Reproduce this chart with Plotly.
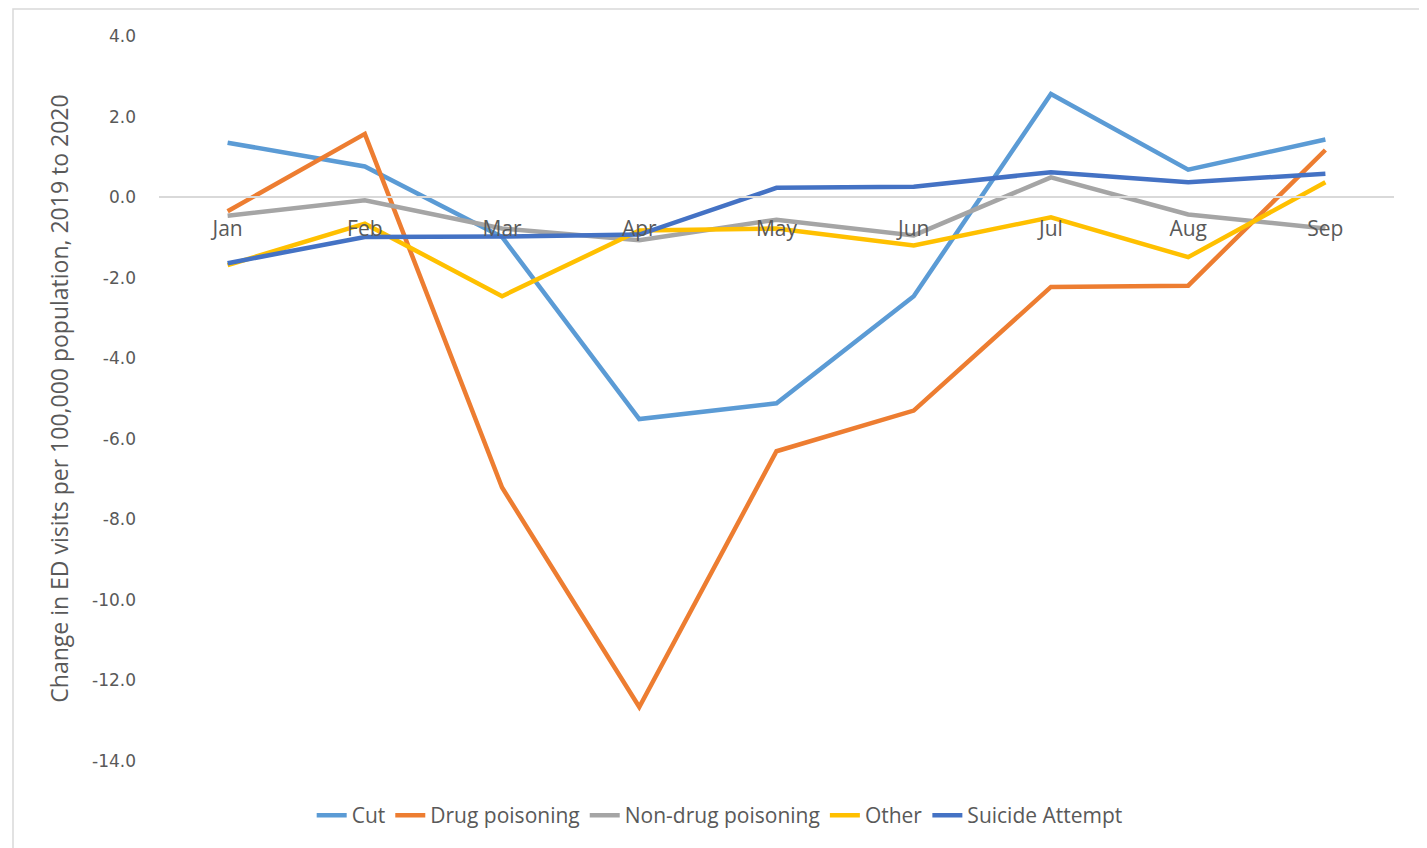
import plotly.graph_objects as go

months = ["Jan", "Feb", "Mar", "Apr", "May", "Jun", "Jul", "Aug", "Sep"]
cut = [1.35, 0.76, -0.99, -5.51, -5.12, -2.46, 2.56, 0.68, 1.43]
drug = [-0.35, 1.57, -7.21, -12.66, -6.31, -5.30, -2.23, -2.20, 1.17]
nondrug = [-0.46, -0.08, -0.78, -1.07, -0.56, -0.95, 0.49, -0.43, -0.78]
other = [-1.69, -0.66, -2.46, -0.83, -0.78, -1.20, -0.50, -1.49, 0.37]
suicide = [-1.64, -0.99, -0.98, -0.93, 0.23, 0.26, 0.62, 0.37, 0.58]

series = [
    ("Cut", cut, "#5B9BD5"),
    ("Drug poisoning", drug, "#ED7D31"),
    ("Non-drug poisoning", nondrug, "#A5A5A5"),
    ("Other", other, "#FFC000"),
    ("Suicide Attempt", suicide, "#4472C4"),
]

ytick_vals = [4, 2, 0, -2, -4, -6, -8, -10, -12, -14]
ytick_text = [f"{v:.1f}" for v in ytick_vals]

fig = go.Figure()
for name, vals, color in series:
    fig.add_trace(go.Scatter(x=months, y=vals, name=name, mode="lines",
                             line=dict(color=color, width=4.5)))

ymin, ymax = -14, 4
W, H = 1419, 840
ML, MR, MT, MB = 151, 33, 28, 85
PW, PH = W - ML - MR, H - MT - MB
fig.update_layout(
    width=W, height=H,
    margin=dict(l=ML, r=MR, t=MT, b=MB),
    plot_bgcolor="white", paper_bgcolor="white",
    font=dict(family="Open Sans", color="#595959"),
    showlegend=True,
    legend=dict(orientation="h", x=0.454, xanchor="center", y=-0.047, yanchor="top",
                font=dict(family="Open Sans", size=21, color="#595959"),
                itemwidth=30, traceorder="normal", tracegroupgap=0),
    xaxis=dict(
        anchor="free", position=(0 - ymin) / (ymax - ymin),
        showline=True, linecolor="#D9D9D9", linewidth=1.5,
        showgrid=False, zeroline=False,
        ticks="outside", ticklen=13, tickcolor="rgba(0,0,0,0)",
        tickfont=dict(family="Open Sans", size=21, color="#595959"),
        range=[-0.5, 8.5],
    ),
    yaxis=dict(
        range=[ymin, ymax], tickvals=ytick_vals, ticktext=ytick_text,
        showgrid=False, zeroline=False, showline=False, ticks="",
        tickfont=dict(family="DejaVu Sans", size=17, color="#595959"),
        ticklabelstandoff=22,
        title=dict(text="Change in ED visits per 100,000 population, 2019 to 2020",
                   font=dict(family="Open Sans", size=23, color="#595959"),
                   standoff=16),
    ),
    shapes=[dict(type="rect", xref="paper", yref="paper",
                 x0=(5 - ML) / PW, x1=(1413 - ML) / PW,
                 y0=-0.2, y1=(MT + PH - 1) / PH,
                 line=dict(color="#D9D9D9", width=1.5), fillcolor="rgba(0,0,0,0)",
                 layer="below")],
)

fig.write_html("out.html")
